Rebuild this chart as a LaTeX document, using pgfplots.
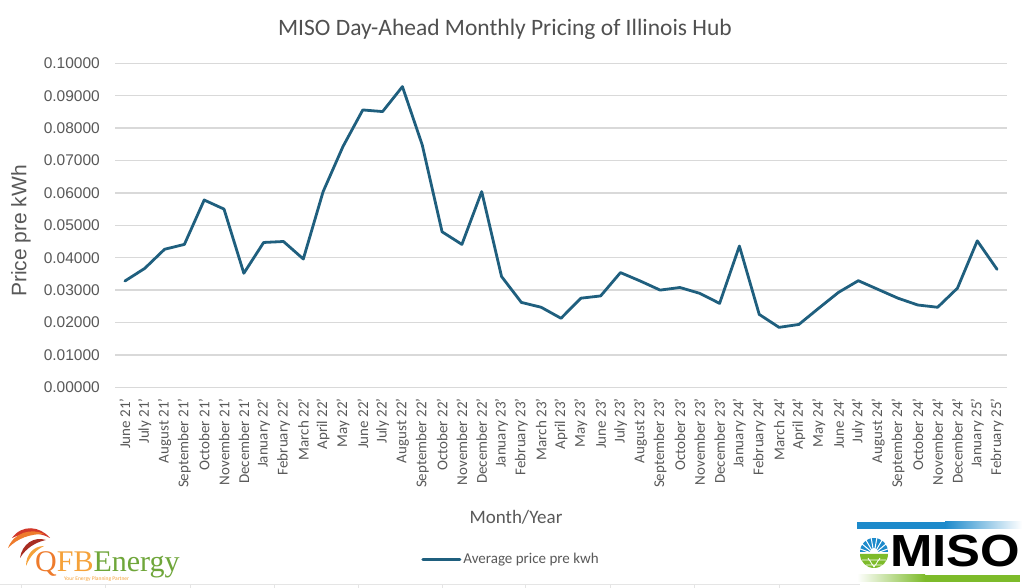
\documentclass[border=0pt]{standalone}
\usepackage{pgfplots}
\pgfplotsset{compat=1.18}
\usepackage{pgfplotstable}
\usepackage{fontspec}
\setmainfont{Carlito}
\newfontfamily\arialf{Liberation Sans}
\newfontfamily\seriff{Liberation Serif}
\definecolor{txtgray}{HTML}{595959}
\definecolor{gridgray}{HTML}{D9D9D9}
\definecolor{linecol}{HTML}{1F5F7E}
\definecolor{qred}{HTML}{D2382A}
\definecolor{qorange}{HTML}{EE7B2C}
\definecolor{qlight}{HTML}{F5A23A}
\definecolor{egreen}{HTML}{6FA63A}
\definecolor{misoblue}{HTML}{1D8ACB}
\definecolor{misogreen}{HTML}{7DBB2A}

\pgfplotstableread{
idx price
0 0.0328
1 0.0367
2 0.0426
3 0.0441
4 0.0578
5 0.0550
6 0.0352
7 0.0447
8 0.0450
9 0.0396
10 0.0604
11 0.0743
12 0.0856
13 0.0851
14 0.0928
15 0.0748
16 0.0480
17 0.0441
18 0.0604
19 0.0342
20 0.0262
21 0.0247
22 0.0213
23 0.0275
24 0.0282
25 0.0354
26 0.0328
27 0.0300
28 0.0308
29 0.0290
30 0.0259
31 0.0436
32 0.0225
33 0.0185
34 0.0194
35 0.0244
36 0.0293
37 0.0329
38 0.0302
39 0.0275
40 0.0254
41 0.0247
42 0.0306
43 0.0452
44 0.0364
}\pricedata

\begin{document}
\begin{tikzpicture}[x=1pt,y=1pt]
\fill[white] (0,0) rectangle (1024,588);
\path[use as bounding box] (0,0) rectangle (1024,588);

\begin{axis}[
  at={(115pt,200.7pt)}, anchor=south west,
  scale only axis, width=892pt, height=324pt,
  xmin=-0.5, xmax=44.5, ymin=0, ymax=0.1,
  axis line style={draw=none},
  ymajorgrids, grid style={gridgray, line width=1.3pt},
  major tick length=0pt,
  ytick={0,0.01,...,0.1},
  /pgf/number format/fixed,
  /pgf/number format/fixed zerofill,
  /pgf/number format/precision=5,
  /pgf/number format/assume math mode=true,
  yticklabel shift=15pt,
  y tick label style={anchor=east, inner sep=0pt, font=\arialf\fontsize{15.5}{18}\selectfont, text=txtgray},
  xtick={0,...,44},
  xticklabels={June 21',July 21',August 21',September 21',October 21',November 21',December 21',January 22',February 22',March 22',April 22',May 22',June 22',July 22',August 22',September 22',October 22',November 22',December 22',January 23',February 23',March 23',April 23',May 23',June 23',July 23',August 23',September 23',October 23',November 23',December 23',January 24',February 24',March 24',April 24',May 24',June 24',July 24',August 24',September 24',October 24',November 24',December 24',January 25',February 25'},
  xticklabel shift=11pt,
  x tick label style={rotate=90, anchor=east, inner sep=0pt, font=\fontsize{15}{16}\selectfont, text=txtgray},
  legend style={at={(0.444,-0.530)}, anchor=center, draw=none, fill=none,
    font=\fontsize{15}{17}\selectfont, text=txtgray, inner sep=0pt},
  legend image code/.code={\draw[#1, line width=3pt] (0pt,0pt) -- (37pt,0pt);},
]
\addplot[linecol, line width=2.8pt, line join=round, line cap=round, no markers] table[x=idx, y=price] {\pricedata};
\addlegendentry{Average price pre kwh}
\end{axis}

% title and labels
\node[text=txtgray!90!black, font=\fontsize{23.5}{26}\selectfont] at (505,559) {MISO Day-Ahead Monthly Pricing of Illinois Hub};
\node[text=txtgray, rotate=90, font=\arialf\fontsize{21}{24}\selectfont] at (21,357) {Price pre kWh};
\node[text=txtgray, font=\fontsize{19}{22}\selectfont] at (516,71) {Month/Year};

% bottom faint line
\draw[gray!20, line width=0.8pt] (0,4) -- (860,4);
\foreach \xx in {21,105,190,274,358,442,525,610,694,779} {\draw[gray!20, line width=0.8pt] (\xx,0) -- (\xx,4);}

% QFB Energy logo
\fill[qred] (12,50) .. controls (22,64) and (40,62) .. (50,50) .. controls (40,56) and (24,56) .. (12,50);
\fill[qorange] (8,40) .. controls (14,56) and (32,60) .. (44,54) .. controls (30,54) and (18,50) .. (8,40);
\fill[qred!80!black] (20,30) .. controls (22,44) and (34,52) .. (46,48) .. controls (36,46) and (26,40) .. (20,30);
\fill[qlight] (26,22) .. controls (26,34) and (34,42) .. (44,42) .. controls (36,38) and (30,32) .. (26,22);
\node[anchor=base west, inner sep=0pt, font=\seriff\fontsize{30}{30}\selectfont] at (35,16) {\textcolor{qorange}{Q}\textcolor{qlight}{FB}\textcolor{egreen}{Energy}};
\node[anchor=base west, inner sep=0pt, text=qlight, font=\fontsize{5.5}{6}\selectfont] at (64,7) {Your Energy Planning Partner};

% MISO logo
\fill[misoblue] (857,59) rectangle (945,66);
\shade[left color=misoblue, right color=white] (945,59) rectangle (1022,66);
\shade[left color=white, right color=misogreen] (857,6) rectangle (925,13);
\fill[misogreen] (925,6) rectangle (1020,13);
\fill[misoblue] (860,36) arc[start angle=180, end angle=0, radius=14] -- cycle;
\foreach \a in {20,40,...,160} {\draw[white, line width=1pt] (874,34) -- ++(\a:16);}
\fill[white] (874,36) circle (4);
\fill[misogreen] (860,34) arc[start angle=180, end angle=360, radius=14] -- cycle;
\draw[white, line width=0.8pt] (862,28) -- (886,28) (866,23) -- (882,23) (868,30) -- (874,21) -- (880,30);
\node[anchor=base west, inner sep=0pt, font=\arialf\bfseries\fontsize{45}{45}\selectfont] at (890,21) {\scalebox{1.13}[1]{MISO}};
\end{tikzpicture}
\end{document}
